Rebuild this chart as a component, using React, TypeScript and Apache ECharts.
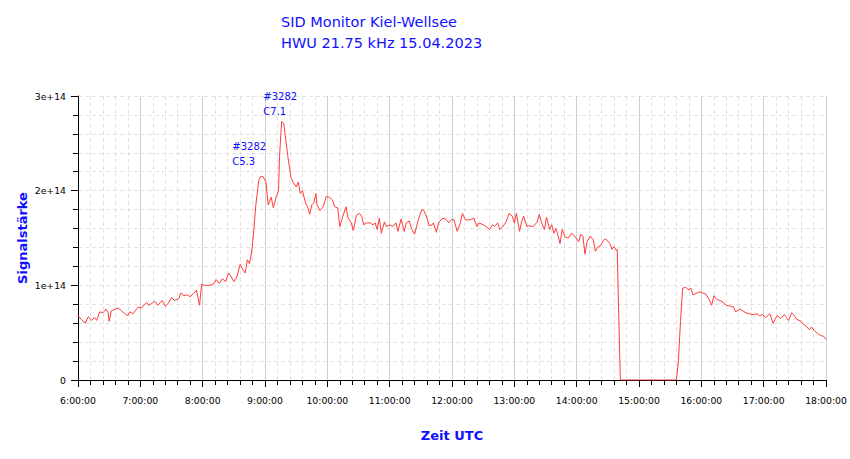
import React, { useEffect, useRef } from "react";
import * as echarts from "echarts";

// Time in minutes since 00:00 UTC
const TIMES: number[] = [
  360, 364, 367, 370, 373, 376, 378, 381, 384, 387, 389, 390, 392, 396, 399, 402, 405, 408, 410, 413,
  415, 418, 421, 426, 428, 431, 434, 437, 441, 444, 447, 450, 453, 457, 459, 462, 465, 468, 471, 474,
  477, 479, 482, 487, 491, 493, 496, 499, 502, 505, 507, 510, 513, 516, 519, 521, 523, 525, 527, 529,
  531, 534, 536, 538, 541, 543, 546, 548, 551, 553, 554, 556, 558, 560, 562, 565, 567, 570, 572, 574,
  576, 579, 581, 583, 585, 587, 589, 590, 593, 596, 599, 602, 605, 607, 610, 612, 615, 618, 620, 623,
  625, 628, 631, 633, 635, 638, 641, 644, 646, 648, 650, 652, 655, 657, 660, 663, 666, 668, 671, 674,
  676, 679, 681, 684, 688, 691, 693, 696, 698, 701, 702, 705, 707, 710, 713, 717, 720, 722, 725, 728,
  730, 733, 736, 739, 741, 744, 746, 750, 753, 756, 759, 761, 764, 766, 769, 772, 775, 778, 780, 782,
  785, 787, 789, 792, 794, 798, 802, 804, 806, 809, 811, 814, 816, 818, 820, 822, 824, 826, 829, 832,
  835, 838, 842, 844, 846, 848, 850, 853, 856, 858, 860, 863, 866, 868, 872, 874, 876, 878, 879, 882,
  936, 938, 940, 942, 945, 948, 950, 952, 956, 958, 961, 964, 967, 970, 972, 975, 978, 981, 984, 988,
  991, 993, 997, 1000, 1003, 1006, 1010, 1013, 1016, 1019, 1022, 1026, 1029, 1031, 1033, 1036, 1040, 1042, 1044, 1047,
  1049, 1052, 1056, 1058, 1061, 1064, 1066, 1069, 1072, 1075, 1078, 1080,
];

// Signal strength in units of 1e14
const SIGNAL_E14: number[] = [
  0.68, 0.63, 0.60, 0.67, 0.63, 0.66, 0.63, 0.72, 0.71, 0.75, 0.71, 0.62, 0.73, 0.75, 0.76, 0.73, 0.70, 0.68, 0.72, 0.70,
  0.73, 0.77, 0.76, 0.82, 0.79, 0.81, 0.83, 0.79, 0.84, 0.78, 0.81, 0.87, 0.84, 0.86, 0.92, 0.89, 0.90, 0.88, 0.91, 0.95,
  0.79, 1.01, 1.00, 1.00, 1.02, 1.06, 1.02, 1.07, 1.04, 1.13, 1.10, 1.04, 1.09, 1.22, 1.16, 1.13, 1.27, 1.23, 1.34, 1.55,
  1.83, 2.11, 2.15, 2.15, 2.09, 1.85, 1.93, 1.82, 1.94, 2.00, 2.36, 2.73, 2.71, 2.54, 2.36, 2.14, 2.09, 2.04, 2.09, 1.97,
  2.00, 1.87, 1.83, 1.75, 1.85, 1.87, 1.97, 1.85, 1.79, 1.83, 1.94, 1.93, 1.90, 1.83, 1.82, 1.62, 1.73, 1.83, 1.71, 1.66,
  1.58, 1.74, 1.76, 1.73, 1.64, 1.66, 1.66, 1.64, 1.66, 1.59, 1.71, 1.55, 1.67, 1.62, 1.64, 1.62, 1.66, 1.57, 1.70, 1.57,
  1.66, 1.68, 1.60, 1.54, 1.71, 1.80, 1.79, 1.71, 1.63, 1.64, 1.66, 1.56, 1.66, 1.70, 1.71, 1.66, 1.70, 1.69, 1.57, 1.66,
  1.76, 1.69, 1.69, 1.70, 1.71, 1.62, 1.66, 1.64, 1.62, 1.59, 1.64, 1.62, 1.66, 1.59, 1.62, 1.67, 1.76, 1.73, 1.66, 1.76,
  1.57, 1.67, 1.73, 1.62, 1.63, 1.62, 1.67, 1.75, 1.67, 1.59, 1.72, 1.59, 1.64, 1.55, 1.60, 1.53, 1.44, 1.59, 1.51, 1.50,
  1.55, 1.52, 1.46, 1.54, 1.52, 1.33, 1.46, 1.52, 1.48, 1.36, 1.40, 1.42, 1.48, 1.49, 1.44, 1.38, 1.41, 1.37, 1.38, 0,
  0, 0.21, 0.63, 0.97, 0.98, 0.95, 0.97, 0.90, 0.92, 0.93, 0.92, 0.91, 0.86, 0.79, 0.89, 0.85, 0.84, 0.82, 0.79, 0.78,
  0.77, 0.72, 0.75, 0.73, 0.71, 0.70, 0.69, 0.70, 0.68, 0.69, 0.66, 0.70, 0.60, 0.64, 0.68, 0.65, 0.69, 0.66, 0.63, 0.71,
  0.69, 0.64, 0.62, 0.59, 0.57, 0.53, 0.56, 0.52, 0.49, 0.47, 0.46, 0.43,
];

// Flare annotations (anchor = bottom-left of label)
const FLARE_TIMES: number[] = [508.5, 538.4];
const FLARE_ANCHOR_E14: number[] = [2.23, 2.76];
const FLARE_LABELS: string[] = ["#3282\nC5.3", "#3282\nC7.1"];

const TITLE_LINES: string[] = ["SID Monitor Kiel-Wellsee", "HWU 21.75 kHz 15.04.2023"];

const X_MIN = 360;
const X_MAX = 1080;

const FONT = "DejaVu Sans";
const BLUE = "#1010ff";

export default function App() {
  const ref = useRef<HTMLDivElement>(null);

  useEffect(() => {
    if (!ref.current) return;
    const chart = echarts.init(ref.current, undefined, { renderer: "svg" });
    const data = TIMES.map((t, i) => [t, SIGNAL_E14[i] * 1e14]);
    const dashed = { color: "#e2e2e2", width: 1, type: [4, 3] as number[] };

    chart.setOption({
      animation: false,
      backgroundColor: "#ffffff",
      title: {
        text: TITLE_LINES.join("\n"),
        left: 281,
        top: 11,
        padding: 0,
        textStyle: {
          color: BLUE,
          fontFamily: FONT,
          fontSize: 14.5,
          fontWeight: "normal",
          lineHeight: 21,
        },
      },
      grid: { left: 78, top: 96, right: 24, bottom: 79, containLabel: false },
      xAxis: {
        type: "value",
        min: X_MIN,
        max: X_MAX,
        interval: 60,
        name: "Zeit UTC",
        nameLocation: "middle",
        nameGap: 49,
        nameMoveOverlap: false,
        nameTextStyle: { color: BLUE, fontFamily: FONT, fontSize: 13, fontWeight: "bold" },
        axisLine: { show: true, onZero: false, lineStyle: { color: "#000", width: 1 } },
        axisTick: { show: true, length: 7, lineStyle: { color: "#000" } },
        minorTick: { show: true, splitNumber: 5, length: 5, lineStyle: { color: "#000" } },
        axisLabel: {
          color: "#000",
          fontFamily: FONT,
          fontSize: 9.3,
          margin: 16,
          formatter: (v: number) => `${Math.floor(v / 60)}:00:00`,
        },
        splitLine: { show: true, lineStyle: { color: "#cfcfcf", width: 1, type: "solid" } },
        minorSplitLine: { show: true, lineStyle: dashed },
      },
      yAxis: {
        type: "value",
        min: 0,
        max: 3e14,
        interval: 1e14,
        name: "Signalstärke",
        nameLocation: "middle",
        nameGap: 49,
        nameMoveOverlap: false,
        nameTextStyle: { color: BLUE, fontFamily: FONT, fontSize: 13, fontWeight: "bold" },
        axisLine: { show: true, lineStyle: { color: "#000", width: 1 } },
        axisTick: { show: true, length: 7, lineStyle: { color: "#000" } },
        minorTick: { show: true, splitNumber: 5, length: 5, lineStyle: { color: "#000" } },
        axisLabel: {
          color: "#000",
          fontFamily: FONT,
          fontSize: 9.3,
          margin: 12,
          formatter: (v: number) => (v === 0 ? "0" : `${Math.round(v / 1e14)}e+14`),
        },
        splitLine: { show: true, lineStyle: dashed },
        minorSplitLine: { show: true, lineStyle: dashed },
      },
      series: [
        {
          type: "line",
          data,
          symbol: "none",
          lineStyle: { color: "#ff3b3b", width: 1 },
          itemStyle: { color: "#ff3b3b" },
          z: 5,
          markPoint: {
            symbol: "rect",
            symbolSize: 0,
            silent: true,
            label: {
              show: true,
              position: [0, 0],
              align: "left",
              verticalAlign: "bottom",
              color: BLUE,
              fontFamily: FONT,
              fontSize: 10,
              lineHeight: 15,
              formatter: (p: any) => p.name,
            },
            data: FLARE_TIMES.map((t, i) => ({
              name: FLARE_LABELS[i],
              coord: [t, FLARE_ANCHOR_E14[i] * 1e14],
            })),
          },
        },
      ],
    });

    return () => chart.dispose();
  }, []);

  return (
    <div
      ref={ref}
      style={{ position: "fixed", left: 0, top: 0, width: 850, height: 459 }}
    />
  );
}
